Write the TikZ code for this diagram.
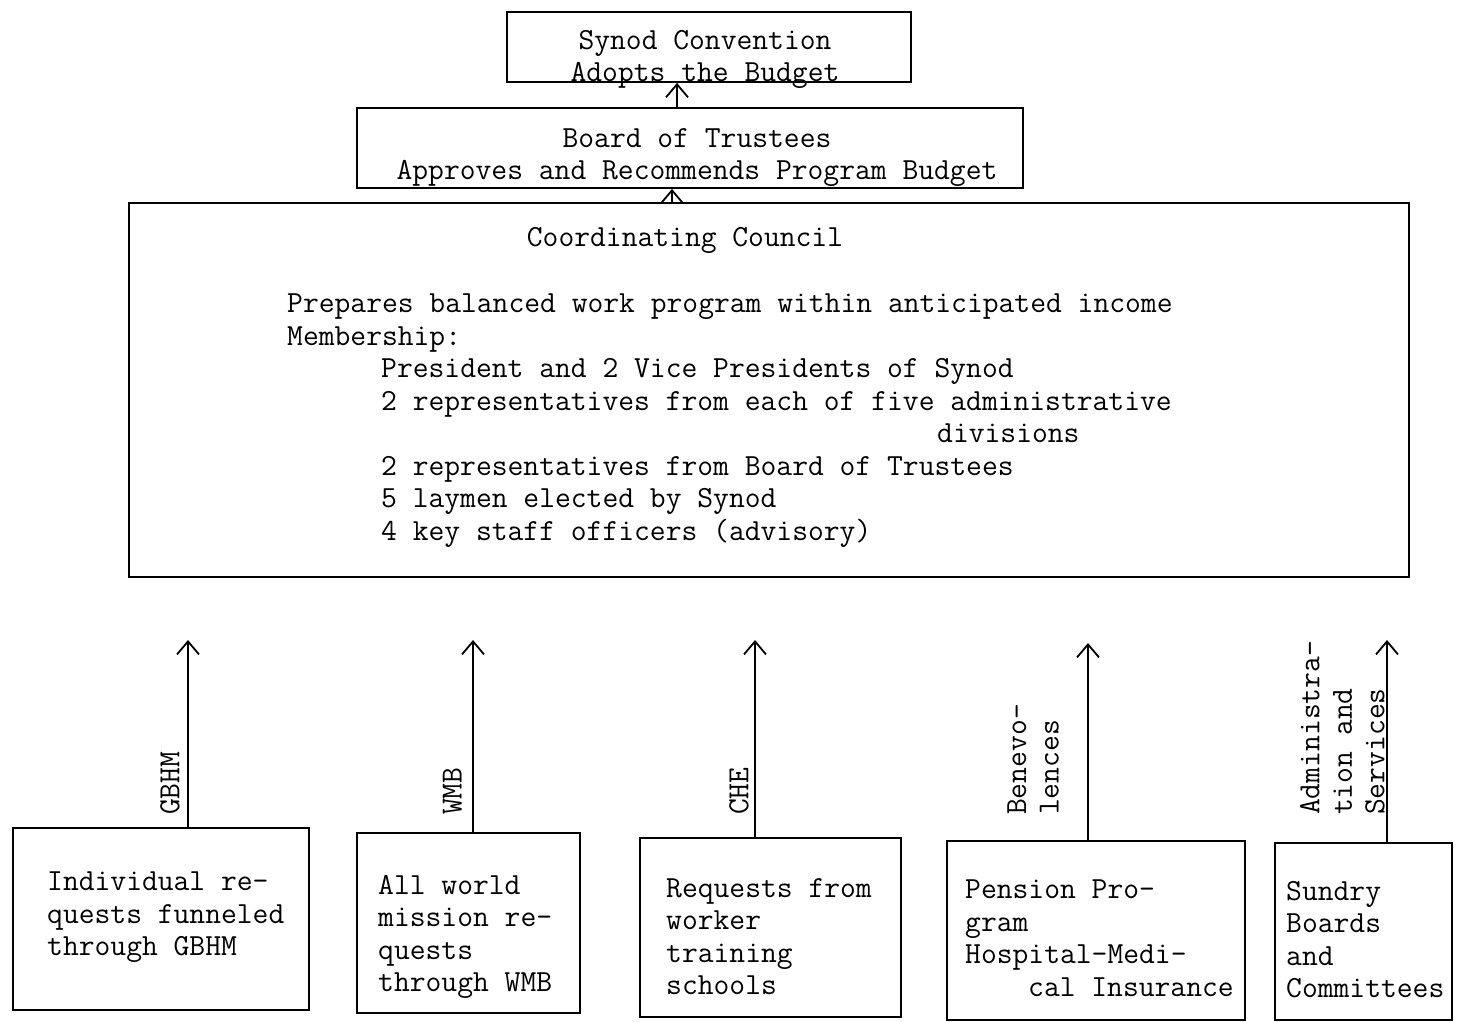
\documentclass[tikz,border=0pt]{standalone}
\usepackage{fontspec}
\usetikzlibrary{arrows.meta}
\newcommand\tabin{\hspace*{94pt}}
\begin{document}
\begin{tikzpicture}[x=1pt,y=-1pt,
    font=\ttfamily\fontsize{30.7pt}{32.5pt}\selectfont,
    box/.style={draw,line width=1.8pt,inner sep=0pt},
    txt/.style={inner sep=0pt,align=left,anchor=north west},
    side/.style={inner sep=0pt,align=left,rotate=90,anchor=south west},
    flow/.style={line width=1.8pt,-{Straight Barb[length=13pt,width=22pt]}}]
    \useasboundingbox (0,0) rectangle (1458,1021);

    % the three upper boxes
    \node[box,minimum width=404pt,minimum height=70pt] (synod) at (709,47) {};
    \node[txt,anchor=north,align=center] (synodtxt) at (705,30)
        {Synod Convention\\ Adopts the Budget};
    \node[box,minimum width=666pt,minimum height=80pt] (board) at (690,148) {};
    \node[txt,anchor=north,align=center] (boardtxt) at (697,128)
        {Board of Trustees\\Approves and Recommends Program Budget};
    \node[box,minimum width=1280pt,minimum height=374pt] (council) at (769,390) {};
    \node[txt,anchor=north] (counciltitle) at (685,227) {Coordinating Council};
    \node[txt] (counciltxt) at (287,294)
        {Prepares balanced work program within anticipated income\\
         Membership:\\
         \tabin President and 2 Vice Presidents of Synod\\
         \tabin 2 representatives from each of five administrative\\
         \hspace*{650pt}divisions\\
         \tabin 2 representatives from Board of Trustees\\
         \tabin 5 laymen elected by Synod\\
         \tabin 4 key staff officers (advisory)};

    \coordinate (up1) at (677,0);
    \coordinate (up2) at (672,0);
    \draw[flow] (board.north -| up1) -- (synod.south -| up1);
    \draw[flow] (council.north -| up2) -- (board.south -| up2);

    % the five sources of requests
    \node[box,minimum width=296pt,minimum height=182pt] (b1) at (161,919) {};
    \node[txt] (b1txt) at (47,872) {Individual re-\\quests funneled\\through GBHM};
    \node[box,minimum width=223pt,minimum height=180pt] (b2) at (468.5,923) {};
    \node[txt] (b2txt) at (378,875) {All world\\mission re-\\quests\\through WMB};
    \node[box,minimum width=261pt,minimum height=179pt] (b3) at (770.5,927.5) {};
    \node[txt] (b3txt) at (666,878) {Requests from\\worker\\training\\schools};
    \node[box,minimum width=298pt,minimum height=179pt] (b4) at (1096,930.5) {};
    \node[txt] (b4txt) at (965,880)
        {Pension Pro-\\gram\\Hospital-Medi-\\\hspace*{63pt}cal Insurance};
    \node[box,minimum width=177pt,minimum height=177pt] (b5) at (1363.5,931.5) {};
    \node[txt] (b5txt) at (1286,881) {Sundry\\Boards\\and\\Committees};

    \coordinate (t1) at (188,640);
    \coordinate (t2) at (473,640);
    \coordinate (t3) at (755,640);
    \coordinate (t4) at (1088,643);
    \coordinate (t5) at (1387,640);
    \draw[flow] (t1 |- b1.north) -- (t1);
    \draw[flow] (t2 |- b2.north) -- (t2);
    \draw[flow] (t3 |- b3.north) -- (t3);
    \draw[flow] (t4 |- b4.north) -- (t4);
    \draw[flow] (t5 |- b5.north) -- (t5);

    \node[side] (l1) at (180,815) {GBHM};
    \node[side] (l2) at (462,815) {WMB};
    \node[side] (l3) at (749,815) {CHE};
    \node[side] (l4) at (1059,815) {Benevo-\\lences};
    \node[side] (l5) at (1385,815) {Administra-\\tion and\\Services};
\end{tikzpicture}
\end{document}
